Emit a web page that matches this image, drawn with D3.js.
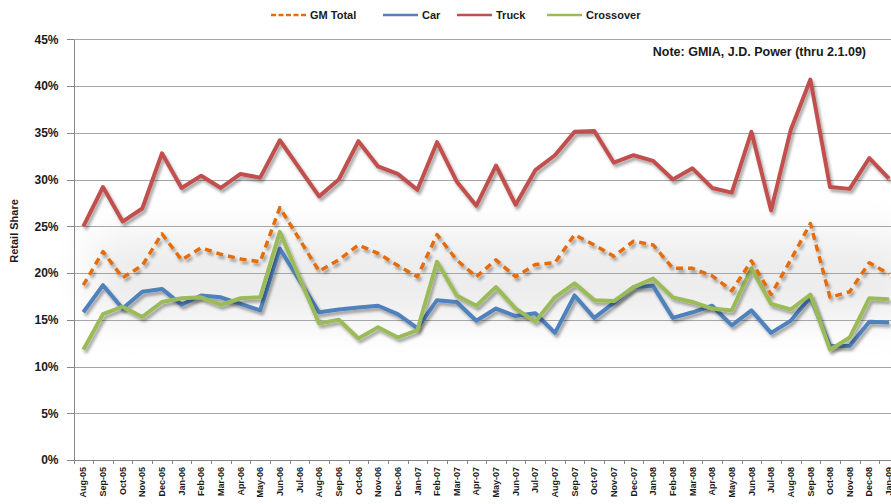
<!DOCTYPE html>
<html lang="en">
<head>
    <meta charset="UTF-8">
    <title>GM Retail Share by Segment</title>
    <style>
        body {
            margin: 0;
            background-color: #ffffff;
            font-family: "Liberation Sans", Arial, sans-serif;
        }
        .axis path, .axis line {
            fill: none;
            stroke: #868686;
            shape-rendering: crispEdges;
        }
        .axis text {
            fill: #1a1a1a;
            font-weight: bold;
        }
        .grid line {
            stroke: #a6a6a6;
            shape-rendering: crispEdges;
        }
    </style>
</head>
<body>
<div id="chart"></div>
<script src="https://d3js.org/d3.v7.min.js"></script>
<script>
// --- data (retail share, %) ---
const months = [
    "Aug-05", "Sep-05", "Oct-05", "Nov-05", "Dec-05",
    "Jan-06", "Feb-06", "Mar-06", "Apr-06", "May-06", "Jun-06", "Jul-06", "Aug-06", "Sep-06", "Oct-06", "Nov-06", "Dec-06",
    "Jan-07", "Feb-07", "Mar-07", "Apr-07", "May-07", "Jun-07", "Jul-07", "Aug-07", "Sep-07", "Oct-07", "Nov-07", "Dec-07",
    "Jan-08", "Feb-08", "Mar-08", "Apr-08", "May-08", "Jun-08", "Jul-08", "Aug-08", "Sep-08", "Oct-08", "Nov-08", "Dec-08",
    "Jan-09"
];

const gmTotal = [18.7, 22.3, 19.5, 20.8, 24.2, 21.4, 22.7, 22.0, 21.5, 21.2, 27.0, 23.6, 20.2, 21.4, 23.0, 22.1, 20.8,
    19.6, 24.1, 21.4, 19.6, 21.4, 19.6, 20.9, 21.1, 24.1, 23.0, 21.8, 23.4, 23.0, 20.5, 20.5, 19.7, 18.1, 21.3, 17.7,
    21.4, 25.3, 17.4, 18.0, 21.1, 19.9];

const car = [15.8, 18.7, 16.2, 18.0, 18.3, 16.6, 17.6, 17.4, 16.7, 16.0, 22.6, 19.2, 15.8, 16.1, 16.3, 16.5, 15.6,
    14.1, 17.1, 16.9, 14.9, 16.2, 15.4, 15.7, 13.6, 17.6, 15.2, 16.8, 18.5, 18.6, 15.2, 15.8, 16.5, 14.4, 16.0, 13.6,
    14.9, 17.4, 12.2, 12.2, 14.8, 14.7];

const truck = [25.0, 29.2, 25.5, 26.9, 32.8, 29.1, 30.4, 29.1, 30.6, 30.2, 34.2, 31.2, 28.2, 30.0, 34.1, 31.4, 30.6,
    28.9, 34.0, 29.8, 27.2, 31.5, 27.3, 31.0, 32.6, 35.1, 35.2, 31.8, 32.6, 32.0, 30.0, 31.2, 29.1, 28.6, 35.1, 26.7,
    35.3, 40.7, 29.2, 29.0, 32.3, 30.1];

const crossover = [11.8, 15.6, 16.4, 15.3, 16.9, 17.3, 17.4, 16.6, 17.3, 17.4, 24.4, 19.5, 14.6, 15.0, 13.0, 14.2, 13.1,
    13.9, 21.2, 17.6, 16.5, 18.5, 16.2, 14.8, 17.4, 18.9, 17.1, 17.0, 18.5, 19.4, 17.4, 16.9, 16.2, 16.0, 20.5, 16.7,
    16.1, 17.7, 11.8, 13.1, 17.3, 17.2];

const yTicks = [0, 5, 10, 15, 20, 25, 30, 35, 40, 45];

const series = [
    {name: "GM Total", values: gmTotal, color: "#e46c0a", dash: "7,5"},
    {name: "Car", values: car, color: "#4f81bd", dash: null},
    {name: "Truck", values: truck, color: "#c0504d", dash: null},
    {name: "Crossover", values: crossover, color: "#9bbb59", dash: null}
];

// --- layout ---
const W = 891, H = 504;
const plotLeft = 73.5, plotTop = 39.3, plotBottom = 460;
const step = 19.65;

const svg = d3.select("#chart").append("svg")
    .attr("width", W)
    .attr("height", H);

const defs = svg.append("defs");
const shadow = defs.append("filter")
    .attr("id", "shadow")
    .attr("x", "-5%").attr("y", "-20%")
    .attr("width", "115%").attr("height", "150%");
shadow.append("feDropShadow")
    .attr("dx", 2).attr("dy", 3)
    .attr("stdDeviation", 1.6)
    .attr("flood-color", "#000")
    .attr("flood-opacity", 0.35);

const glow = defs.append("filter").attr("id", "glow")
    .attr("x", "-20%").attr("y", "-60%").attr("width", "140%").attr("height", "220%");
glow.append("feGaussianBlur").attr("stdDeviation", 20);

// scales
const x = d3.scaleBand()
    .domain(months)
    .range([plotLeft, plotLeft + step * months.length]);

const y = d3.scaleLinear()
    .domain([0, 45])
    .range([plotBottom, plotTop]);

// soft grey glow behind the lower lines
svg.append("rect")
    .attr("x", plotLeft + 20)
    .attr("y", y(24))
    .attr("width", W - plotLeft)
    .attr("height", y(15) - y(24))
    .attr("fill", "#ececec")
    .attr("filter", "url(#glow)");

// gridlines
svg.append("g")
    .attr("class", "grid")
    .selectAll("line")
    .data(yTicks.filter(d => d > 0))
    .join("line")
        .attr("x1", plotLeft)
        .attr("x2", W)
        .attr("y1", d => Math.round(y(d)) + 0.5)
        .attr("y2", d => Math.round(y(d)) + 0.5);

// y axis
const yAxis = svg.append("g")
    .attr("class", "axis")
    .attr("transform", `translate(${plotLeft},0)`)
    .call(d3.axisLeft(y)
        .tickValues(yTicks)
        .tickFormat(d => d + "%")
        .tickSize(7)
        .tickSizeOuter(0)
        .tickPadding(8));
yAxis.selectAll("text")
    .style("font-size", "12px");

// x axis
const xAxis = svg.append("g")
    .attr("class", "axis")
    .attr("transform", `translate(0,${plotBottom})`)
    .call(d3.axisBottom(x).tickSize(0).tickSizeOuter(0).tickPadding(0));
xAxis.selectAll("text")
    .attr("transform", "rotate(-90)")
    .attr("x", -7)
    .attr("y", 0)
    .attr("dy", "0.35em")
    .style("text-anchor", "end")
    .style("font-size", "9px");

// tick marks between the months
xAxis.selectAll("line.sep")
    .data(d3.range(months.length + 1))
    .join("line")
        .attr("class", "sep")
        .attr("x1", i => Math.round(plotLeft + i * step) + 0.5)
        .attr("x2", i => Math.round(plotLeft + i * step) + 0.5)
        .attr("y1", 0)
        .attr("y2", 4);

// lines
const line = d3.line()
    .x((d, i) => x(months[i]) + x.bandwidth() / 2)
    .y(d => y(d));

// draw order: Car, Crossover, Truck, GM Total on top
const drawOrder = [series[1], series[3], series[2], series[0]];
svg.append("g")
    .selectAll("path")
    .data(drawOrder)
    .join("path")
        .attr("d", d => line(d.values))
        .attr("fill", "none")
        .attr("stroke", d => d.color)
        .attr("stroke-width", d => d.dash ? 3.5 : 4)
        .attr("stroke-dasharray", d => d.dash)
        .attr("stroke-linejoin", "round")
        .attr("filter", "url(#shadow)");

// y axis title
svg.append("text")
    .attr("transform", `translate(18,${y(24.5)}) rotate(-90)`)
    .attr("text-anchor", "middle")
    .style("font-weight", "bold")
    .style("font-size", "11px")
    .attr("fill", "#1a1a1a")
    .text("Retail Share");

// note
svg.append("text")
    .attr("x", 866)
    .attr("y", 56)
    .attr("text-anchor", "end")
    .style("font-weight", "bold")
    .style("font-size", "12.5px")
    .attr("fill", "#1a1a1a")
    .text("Note: GMIA, J.D. Power (thru 2.1.09)");

// legend
const legendX = [271, 383, 457, 547];
const legend = svg.append("g")
    .selectAll("g")
    .data(series)
    .join("g")
        .attr("transform", (d, i) => `translate(${legendX[i]},15)`);
legend.append("line")
    .attr("x1", 0).attr("x2", 35)
    .attr("stroke", d => d.color)
    .attr("stroke-width", 2.5)
    .attr("stroke-dasharray", d => d.dash ? "5,2.5" : null);
legend.append("text")
    .attr("x", 39)
    .attr("dy", "0.35em")
    .style("font-weight", "bold")
    .style("font-size", "11px")
    .attr("fill", "#1a1a1a")
    .text(d => d.name);
</script>
</body>
</html>
